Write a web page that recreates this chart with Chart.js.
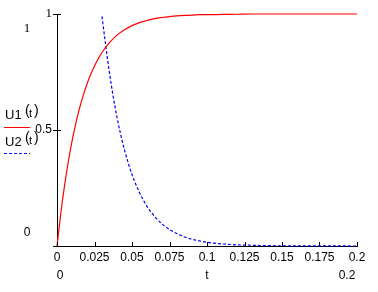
<!DOCTYPE html>
<html>
<head>
<meta charset="utf-8">
<script src="https://cdn.jsdelivr.net/npm/chart.js@4/dist/chart.umd.min.js"></script>
<style>
  html, body { margin: 0; padding: 0; background: #fff; }
  #wrap { width: 378px; height: 292px; }
</style>
</head>
<body>
<div id="wrap"><canvas id="plot" width="378" height="292"></canvas></div>
<script>
// U1(t): rising curve (red)
const tU1 = [0, 0.0025, 0.005, 0.0075, 0.01, 0.0125, 0.015, 0.0175, 0.02, 0.0225, 0.025, 0.0275, 0.03,
  0.035, 0.04, 0.045, 0.05, 0.055, 0.06, 0.065, 0.07, 0.075, 0.08, 0.085, 0.09, 0.095, 0.1,
  0.11, 0.12, 0.13, 0.15, 0.2];
const u1 = [0, 0.139, 0.259, 0.362, 0.451, 0.527, 0.593, 0.649, 0.698, 0.740, 0.776, 0.807, 0.834,
  0.877, 0.909, 0.932, 0.950, 0.963, 0.972, 0.980, 0.985, 0.989, 0.992, 0.994, 0.995, 0.997, 0.997,
  0.998, 0.999, 1, 1, 1];

// U2(t): decaying curve (blue, dashed)
const tU2 = [0.03, 0.0325, 0.035, 0.0375, 0.04, 0.0425, 0.045, 0.0475, 0.05, 0.055, 0.06, 0.065,
  0.07, 0.075, 0.08, 0.085, 0.09, 0.095, 0.1, 0.105, 0.11, 0.12, 0.13, 0.14, 0.15, 0.2];
const u2 = [0.99, 0.863, 0.745, 0.643, 0.555, 0.479, 0.414, 0.357, 0.308, 0.230, 0.171, 0.128,
  0.095, 0.071, 0.053, 0.039, 0.029, 0.022, 0.016, 0.012, 0.009, 0.005, 0.003, 0.0015, 0.001, 0];

// axis ticks
const xTickValues = [0, 0.025, 0.05, 0.075, 0.1, 0.125, 0.15, 0.175, 0.2];
const xTickLabels = ['0', '0.025', '0.05', '0.075', '0.1', '0.125', '0.15', '0.175', '0.2'];
const yTickValues = [0, 0.5, 1];
const yTickLabels = ['', '0.5', '1'];

const toPoints = (xs, ys) => xs.map((x, i) => ({ x: x, y: ys[i] }));

const sans = 'Arial, "Liberation Sans", sans-serif';
const serif = '"Times New Roman", "Liberation Serif", serif';

// inward tick marks, limit labels and the Mathcad-like legend
const decorations = {
  id: 'decorations',
  afterDraw(chart) {
    const ctx = chart.ctx;
    const area = chart.chartArea;
    const xs = chart.scales.x;
    const ys = chart.scales.y;
    ctx.save();
    ctx.strokeStyle = '#000';
    ctx.lineWidth = 1;
    ctx.beginPath();
    xTickValues.forEach(v => {
      const px = Math.round(xs.getPixelForValue(v)) + 0.5;
      ctx.moveTo(px, area.bottom);
      ctx.lineTo(px, area.bottom - 4);
    });
    yTickValues.slice(1).forEach(v => {
      const py = Math.round(ys.getPixelForValue(v)) + 0.5;
      ctx.moveTo(area.left - 4, py);
      ctx.lineTo(area.left + 4, py);
    });
    // x axis runs a little past the y axis
    ctx.moveTo(area.left - 4, area.bottom + 0.5);
    ctx.lineTo(area.left, area.bottom + 0.5);
    ctx.stroke();

    ctx.fillStyle = '#000';
    ctx.textAlign = 'center';
    ctx.textBaseline = 'middle';
    ctx.font = '13px ' + serif;
    ctx.fillText('1', 27, 29);
    ctx.font = '12px ' + sans;
    ctx.fillText('0', 27, 233);
    ctx.fillText('0', 60, 276);
    ctx.fillText('t', 207, 276);
    ctx.fillText('0.2', 347, 276);

    // legend
    ctx.textAlign = 'left';
    ctx.font = '13px ' + sans;
    ctx.fillText('U1', 5, 115);
    ctx.fillText('U2', 5, 142);
    ctx.font = '14px ' + sans;
    ctx.fillText('(', 25, 111);
    ctx.fillText(')', 34, 111);
    ctx.fillText('(', 25, 138);
    ctx.fillText(')', 34, 138);
    ctx.font = '11px ' + sans;
    ctx.fillText('t', 29, 114);
    ctx.fillText('t', 29, 141);

    ctx.beginPath();
    ctx.strokeStyle = '#ff0000';
    ctx.moveTo(4, 127.5);
    ctx.lineTo(30, 127.5);
    ctx.stroke();
    ctx.beginPath();
    ctx.strokeStyle = '#0000ff';
    ctx.setLineDash([3, 2]);
    ctx.moveTo(4, 153.5);
    ctx.lineTo(30, 153.5);
    ctx.stroke();
    ctx.restore();
  }
};

new Chart(document.getElementById('plot'), {
  type: 'line',
  data: {
    datasets: [{
      label: 'U1(t)',
      data: toPoints(tU1, u1),
      borderColor: '#ff0000',
      borderWidth: 1.2,
      pointRadius: 0,
      fill: false,
      cubicInterpolationMode: 'monotone'
    }, {
      label: 'U2(t)',
      data: toPoints(tU2, u2),
      borderColor: '#0000ff',
      borderWidth: 1.2,
      borderDash: [3, 2],
      pointRadius: 0,
      fill: false,
      cubicInterpolationMode: 'monotone'
    }]
  },
  options: {
    responsive: false,
    animation: false,
    clip: false,
    layout: { padding: { top: 14, right: 21, left: 0, bottom: 0 } },
    plugins: {
      legend: { display: false },
      tooltip: { enabled: false }
    },
    scales: {
      x: {
        type: 'linear',
        min: 0,
        max: 0.2,
        afterFit(scale) { scale.height = 46; },
        afterBuildTicks(scale) { scale.ticks = xTickValues.map(v => ({ value: v })); },
        grid: { display: false, drawTicks: false },
        border: { display: true, color: '#000', width: 1 },
        ticks: {
          padding: 4,
          maxRotation: 0,
          autoSkip: false,
          color: '#000',
          font: { family: sans, size: 12 },
          callback: (v) => xTickLabels[xTickValues.indexOf(v)]
        }
      },
      y: {
        min: 0,
        max: 1,
        afterFit(scale) { scale.width = 57; },
        afterBuildTicks(scale) { scale.ticks = yTickValues.map(v => ({ value: v })); },
        grid: { display: false, drawTicks: false },
        border: { display: true, color: '#000', width: 1 },
        ticks: {
          padding: 5,
          autoSkip: false,
          color: '#000',
          font: (c) => ({ family: c.tick && c.tick.value === 1 ? serif : sans, size: c.tick && c.tick.value === 1 ? 13 : 12 }),
          callback: (v) => yTickLabels[yTickValues.indexOf(v)]
        }
      }
    }
  },
  plugins: [decorations]
});
</script>
</body>
</html>
